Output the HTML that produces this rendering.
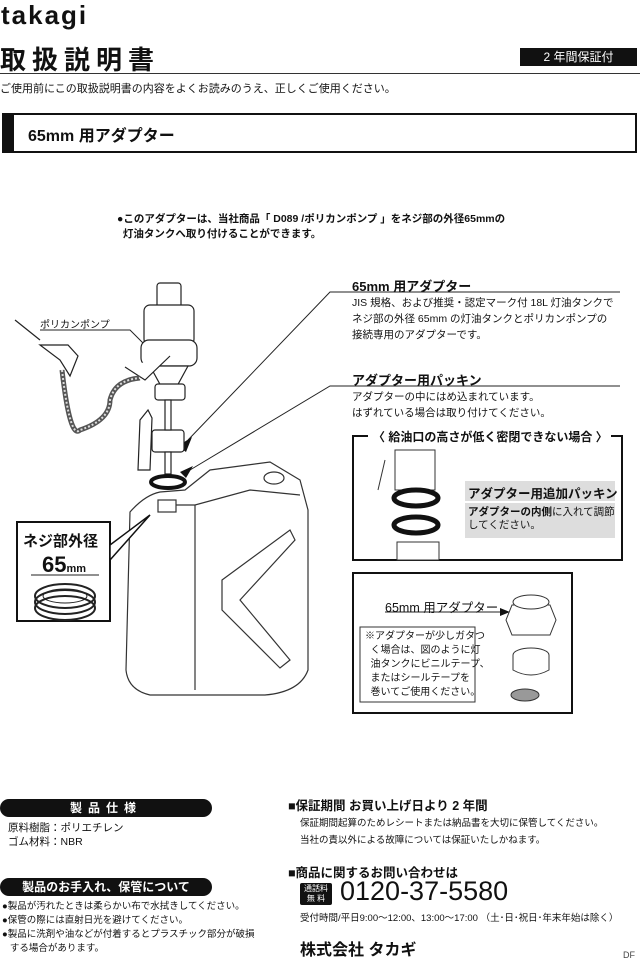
<!DOCTYPE html>
<html><head><meta charset="utf-8">
<style>
*{margin:0;padding:0;box-sizing:border-box}
body{width:640px;height:965px;background:#fff;position:relative;overflow:hidden;font-family:"Liberation Sans","Noto Sans CJK JP",sans-serif;color:#111}
.a{position:absolute;white-space:nowrap}
.b{font-weight:bold}
.pill{position:absolute;background:#111;color:#fff;border-radius:9px;text-align:center;font-weight:bold}
</style></head><body>
<div class="a b" style="left:1px;top:0px;font-size:26px;letter-spacing:2px">takagi</div>
<div class="a b" style="left:0;top:40px;font-size:26px;letter-spacing:6px">取扱説明書</div>
<div class="a" style="left:520px;top:48px;width:117px;height:18px;background:#111;color:#fff;font-size:12px;text-align:center;line-height:18px">2 年間保証付</div>
<div class="a" style="left:0;top:73px;width:640px;height:1px;background:#333"></div>
<div class="a" style="left:0;top:80px;font-size:11px">ご使用前にこの取扱説明書の内容をよくお読みのうえ、正しくご使用ください。</div>
<div class="a" style="left:2px;top:113px;width:635px;height:40px;border:2px solid #111;border-left:12px solid #111"></div>
<div class="a b" style="left:28px;top:122px;font-size:16px">65mm 用アダプター</div>

<div class="a b" style="left:117px;top:212px;font-size:10.5px;line-height:15px">●このアダプターは、当社商品「 D089 /ポリカンポンプ 」をネジ部の外径65mmの<br>&nbsp;&nbsp;灯油タンクへ取り付けることができます。</div>

<div class="a b" style="left:352px;top:276px;font-size:13px">65mm 用アダプター</div>
<div class="a" style="left:352px;top:295px;font-size:10.5px;line-height:16px">JIS 規格、および推奨・認定マーク付 18L 灯油タンクで<br>ネジ部の外径 65mm の灯油タンクとポリカンポンプの<br>接続専用のアダプターです。</div>
<div class="a b" style="left:352px;top:370px;font-size:13px">アダプター用パッキン</div>
<div class="a" style="left:352px;top:389px;font-size:10.5px;line-height:16px">アダプターの中にはめ込まれています。<br>はずれている場合は取り付けてください。</div>
<div class="a" style="left:40px;top:316px;font-size:10px">ポリカンポンプ</div>

<svg class="a" style="left:0;top:0" width="640" height="965">
<g fill="none" stroke="#222" stroke-width="1">
<polyline points="40,330 130,330 150,350"/>
<polyline points="620,292 330,292 188,440"/>
<polyline points="620,386 330,386 190,470"/>
</g>
<polygon points="178,446 192,437 186,452" fill="#111"/>
<polygon points="180,472 193,466 186,478" fill="#111"/>
<g fill="#fff" stroke="#222" stroke-width="1.2">
<rect x="157" y="283" width="24" height="30" rx="3"/>
<rect x="144" y="305" width="50" height="40" rx="6"/>
<rect x="141" y="340" width="56" height="26" rx="8"/>
<path d="M150 366 L188 366 L176 388 L162 388 Z"/>
<rect x="155" y="384" width="30" height="16" rx="3"/>
<rect x="152" y="430" width="32" height="22" rx="3"/>
<rect x="165" y="400" width="6" height="30"/>
<rect x="165" y="452" width="6" height="22"/>
<path d="M148 410 L140 420 L138 470 L150 470 L152 418 Z"/>
<path d="M125 367 L145 380 L170 356"/>
<path d="M40 345 L68 345 L78 356 L70 376 L60 360 Z"/>
<path d="M15 320 L40 340" />
</g>
<path d="M62 370 Q70 440 80 430 Q110 420 110 400 Q115 380 140 378" fill="none" stroke="#555" stroke-width="5"/>
<path d="M62 370 Q70 440 80 430 Q110 420 110 400 Q115 380 140 378" fill="none" stroke="#ddd" stroke-width="2" stroke-dasharray="2 2"/>
<ellipse cx="168" cy="482" rx="17" ry="6" fill="none" stroke="#111" stroke-width="4"/>
<g fill="#fff" stroke="#333" stroke-width="1.2">
<path d="M130 512 Q145 495 160 492 L185 490 L210 470 L270 462 L300 480 L308 510 L308 670 Q300 692 265 695 L150 695 Q128 690 126 670 Z"/>
<path d="M160 505 L195 505 L250 490 L300 495"/>
<path d="M195 505 L195 690"/>
<path d="M222 580 L290 530 L295 540 L240 600 L290 660 L280 668 L222 610 Z"/>
<ellipse cx="274" cy="478" rx="10" ry="6"/>
<rect x="158" y="500" width="18" height="12"/>
</g>
<rect x="17" y="522" width="93" height="99" fill="#fff" stroke="#111" stroke-width="2"/>
<polygon points="110,545 150,515 110,560" fill="#fff" stroke="#111" stroke-width="1.5"/>
<line x1="31" y1="575" x2="99" y2="575" stroke="#222"/>
<ellipse cx="65" cy="596" rx="30" ry="12" fill="none" stroke="#222" stroke-width="2"/>
<ellipse cx="65" cy="602" rx="30" ry="12" fill="none" stroke="#222" stroke-width="2"/>
<ellipse cx="65" cy="608" rx="30" ry="12" fill="none" stroke="#222" stroke-width="2"/>
<ellipse cx="65" cy="596" rx="22" ry="7" fill="none" stroke="#222" stroke-width="1"/>
<path d="M368 436 L353 436 L353 560 L622 560 L622 436 L565 436" fill="none" stroke="#111" stroke-width="2"/>
<g fill="#fff" stroke="#333"><rect x="395" y="450" width="40" height="40"/><path d="M385 460 L378 490"/><rect x="397" y="542" width="42" height="18"/></g>
<ellipse cx="416" cy="498" rx="22" ry="8" fill="none" stroke="#111" stroke-width="5"/>
<ellipse cx="416" cy="525" rx="22" ry="8" fill="none" stroke="#111" stroke-width="5"/>
<rect x="465" y="481" width="150" height="20" fill="#ddd"/>
<rect x="465" y="503" width="150" height="35" fill="#ddd"/>
<rect x="353" y="573" width="219" height="140" fill="none" stroke="#111" stroke-width="2"/>
<line x1="385" y1="612" x2="500" y2="612" stroke="#222"/>
<polygon points="500,608 510,612 500,616" fill="#111"/>
<g fill="#fff" stroke="#333"><path d="M512 605 L550 605 L556 620 L550 635 L512 635 L506 620 Z"/><ellipse cx="531" cy="602" rx="18" ry="7"/><ellipse cx="531" cy="655" rx="18" ry="7"/><path d="M513 655 L513 670 Q531 680 549 670 L549 655"/><ellipse cx="525" cy="695" rx="14" ry="6" fill="#999"/></g>
<rect x="360" y="627" width="115" height="75" fill="#fff" stroke="#333"/>
</svg>

<div class="a b" style="left:23px;top:530px;font-size:15px">ネジ部外径</div>
<div class="a b" style="left:42px;top:552px;font-size:22px">65<span style="font-size:11px">mm</span></div>
<div class="a b" style="left:370px;top:428px;font-size:12px;background:#fff;padding:0 3px">〈 給油口の高さが低く密閉できない場合 〉</div>
<div class="a b" style="left:468px;top:483px;font-size:12.5px">アダプター用追加パッキン</div>
<div class="a" style="left:468px;top:506px;font-size:10.5px;line-height:13px"><b>アダプターの内側</b>に入れて調節<br>してください。</div>
<div class="a" style="left:385px;top:597px;font-size:12.5px">65mm 用アダプター</div>
<div class="a" style="left:365px;top:630px;font-size:10px;line-height:14px">※アダプターが少しガタつ<br>&nbsp;&nbsp;く場合は、図のように灯<br>&nbsp;&nbsp;油タンクにビニルテープ、<br>&nbsp;&nbsp;またはシールテープを<br>&nbsp;&nbsp;巻いてご使用ください。</div>

<div class="pill" style="left:0;top:799px;width:212px;height:18px;font-size:12px;line-height:18px;letter-spacing:6px">製品仕様</div>
<div class="a" style="left:8px;top:821px;font-size:10.5px;line-height:14px">原料樹脂：ポリエチレン<br>ゴム材料：NBR</div>
<div class="pill" style="left:0;top:878px;width:212px;height:18px;font-size:12px;line-height:18px">製品のお手入れ、保管について</div>
<div class="a" style="left:2px;top:900px;font-size:9.5px;line-height:14px">●製品が汚れたときは柔らかい布で水拭きしてください。<br>●保管の際には直射日光を避けてください。<br>●製品に洗剤や油などが付着するとプラスチック部分が破損<br>&nbsp;&nbsp;&nbsp;する場合があります。</div>

<div class="a b" style="left:288px;top:795px;font-size:12.5px">■保証期間 お買い上げ日より 2 年間</div>
<div class="a" style="left:300px;top:815px;font-size:9.5px;line-height:17px">保証期間起算のためレシートまたは納品書を大切に保管してください。<br>当社の責以外による故障については保証いたしかねます。</div>
<div class="a b" style="left:288px;top:862px;font-size:12.5px">■商品に関するお問い合わせは</div>
<div class="a" style="left:300px;top:883px;width:32px;height:22px;background:#111;color:#fff;font-size:8px;line-height:10px;text-align:center;padding-top:1px;border-radius:2px">通話料<br>無 料</div>
<div class="a" style="left:340px;top:876px;font-size:27px">0120-37-5580</div>
<div class="a" style="left:300px;top:910px;font-size:9.5px">受付時間/平日9:00〜12:00、13:00〜17:00 （土･日･祝日･年末年始は除く）</div>
<div class="a b" style="left:300px;top:936px;font-size:16px">株式会社 タカギ</div>
<div class="a" style="left:623px;top:950px;font-size:9px;color:#444">DF</div>
</body></html>
